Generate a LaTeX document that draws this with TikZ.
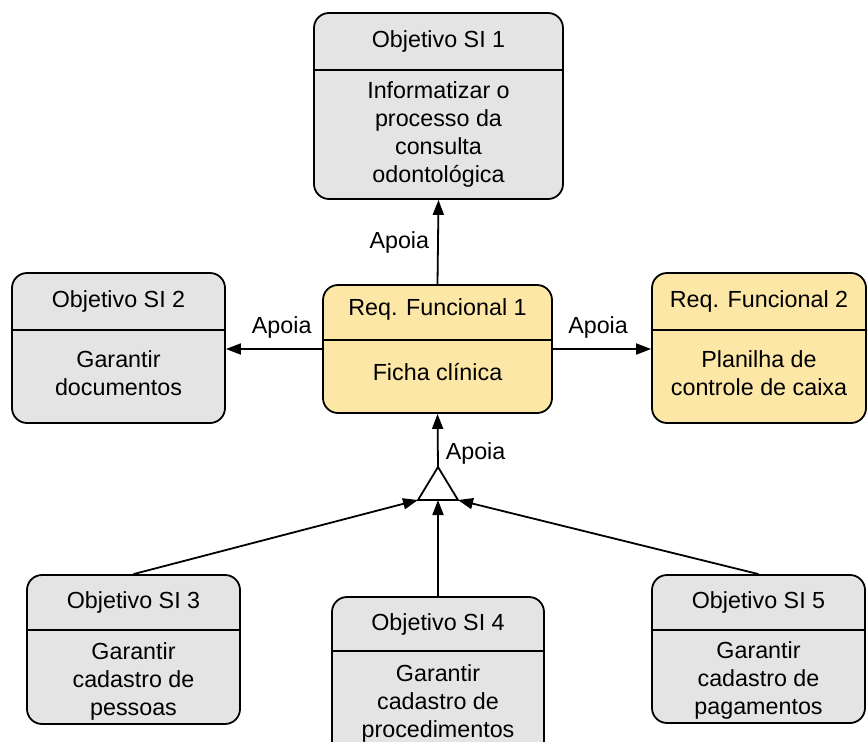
\documentclass[tikz,border=0pt]{standalone}
\usepackage{fontspec}
\setmainfont{Liberation Sans}
\usetikzlibrary{arrows.meta}
\definecolor{boxgrey}{HTML}{E4E4E4}
\definecolor{boxyellow}{HTML}{FCE7A6}
\tikzset{
  box/.style={draw=black, line width=1.8pt, rounded corners=15pt, inner sep=0pt},
  greybox/.style={box, fill=boxgrey},
  yellowbox/.style={box, fill=boxyellow},
  divider/.style={line width=1.8pt},
  txt/.style={font=\fontsize{23.3}{28}\selectfont, align=center, inner sep=0pt},
  lbl/.style={font=\fontsize{23.3}{28}\selectfont, inner sep=0pt},
  conn/.style={line width=1.8pt, -{Triangle[length=15pt,width=11pt]}},
  plainline/.style={line width=1.8pt},
}
\def\bshift{0}
\def\hshift{0}
% name, style, x1, y1, x2, y2, ydiv, header, body
\newcommand\umlbox[9]{%
  \node[#2, minimum width={(#5-#3)*1pt}, minimum height={(#6-#4)*1pt}]
    (#1) at ({(#3+#5)/2},{(#4+#6)/2}) {};
  \draw[divider] (#3,#7) -- (#5,#7);
  \node[txt, yshift=\hshift pt] (#1-h) at ({(#3+#5)/2},{(#4+#7)/2}) {#8};
  \node[txt, yshift=\bshift pt] (#1-b) at ({(#3+#5)/2},{(#7+#6)/2}) {#9};
}
\begin{document}
\begin{tikzpicture}[x=1pt,y=-1pt]
\useasboundingbox (0,0) rectangle (868,742);
\clip (0,0) rectangle (868,742);
\fill[white] (0,0) rectangle (868,742);

\umlbox{o1}{greybox}{314}{13}{563}{199}{70}{Objetivo SI 1}{Informatizar o\\processo da\\consulta\\odontológica}
\def\bshift{3}
\umlbox{o2}{greybox}{12}{273}{225}{423}{330}{Objetivo SI 2}{Garantir\\documentos}
\umlbox{rf2}{yellowbox}{652}{273}{866}{423}{330}{Req. Funcional 2}{Planilha de\\controle de caixa}
\def\bshift{4}\def\hshift{3}
\umlbox{rf1}{yellowbox}{323}{285}{552}{413}{340}{Req. Funcional 1}{Ficha clínica}
\def\bshift{-4}\def\hshift{0}
\umlbox{o3}{greybox}{27}{575}{240}{724}{630}{Objetivo SI 3}{Garantir\\cadastro de\\pessoas}
\umlbox{o5}{greybox}{652}{575}{865}{723}{630}{Objetivo SI 5}{Garantir\\cadastro de\\pagamentos}
\def\bshift{0}
\umlbox{o4}{greybox}{332}{597}{544}{756}{651}{Objetivo SI 4}{Garantir\\cadastro de\\procedimentos}

% junction triangle
\coordinate (tA) at (438,467);
\coordinate (tL) at (418,500);
\coordinate (tR) at (458,500);
\coordinate (tM) at (438,500);
\draw[plainline, fill=white, line join=miter] (tA) -- (tL) -- (tR) -- cycle;

% connectors
\draw[conn] (rf1.north) -- node[lbl, left=8pt] {Apoia} (o1.south);
\draw[conn] (rf1.west) -- node[lbl, above=10pt, pos=0.42] {Apoia} (rf1.west -| o2.east);
\draw[conn] (rf1.east) -- node[lbl, above=10pt, pos=0.46] {Apoia} (rf1.east -| rf2.west);
\draw[conn] (tA) -- node[lbl, right=7pt, pos=0.26] {Apoia} (rf1.south);
\draw[conn] (o3.north) -- (tL);
\draw[conn] (o4.north) -- (tM);
\draw[conn] (o5.north) -- (tR);
\end{tikzpicture}
\end{document}
